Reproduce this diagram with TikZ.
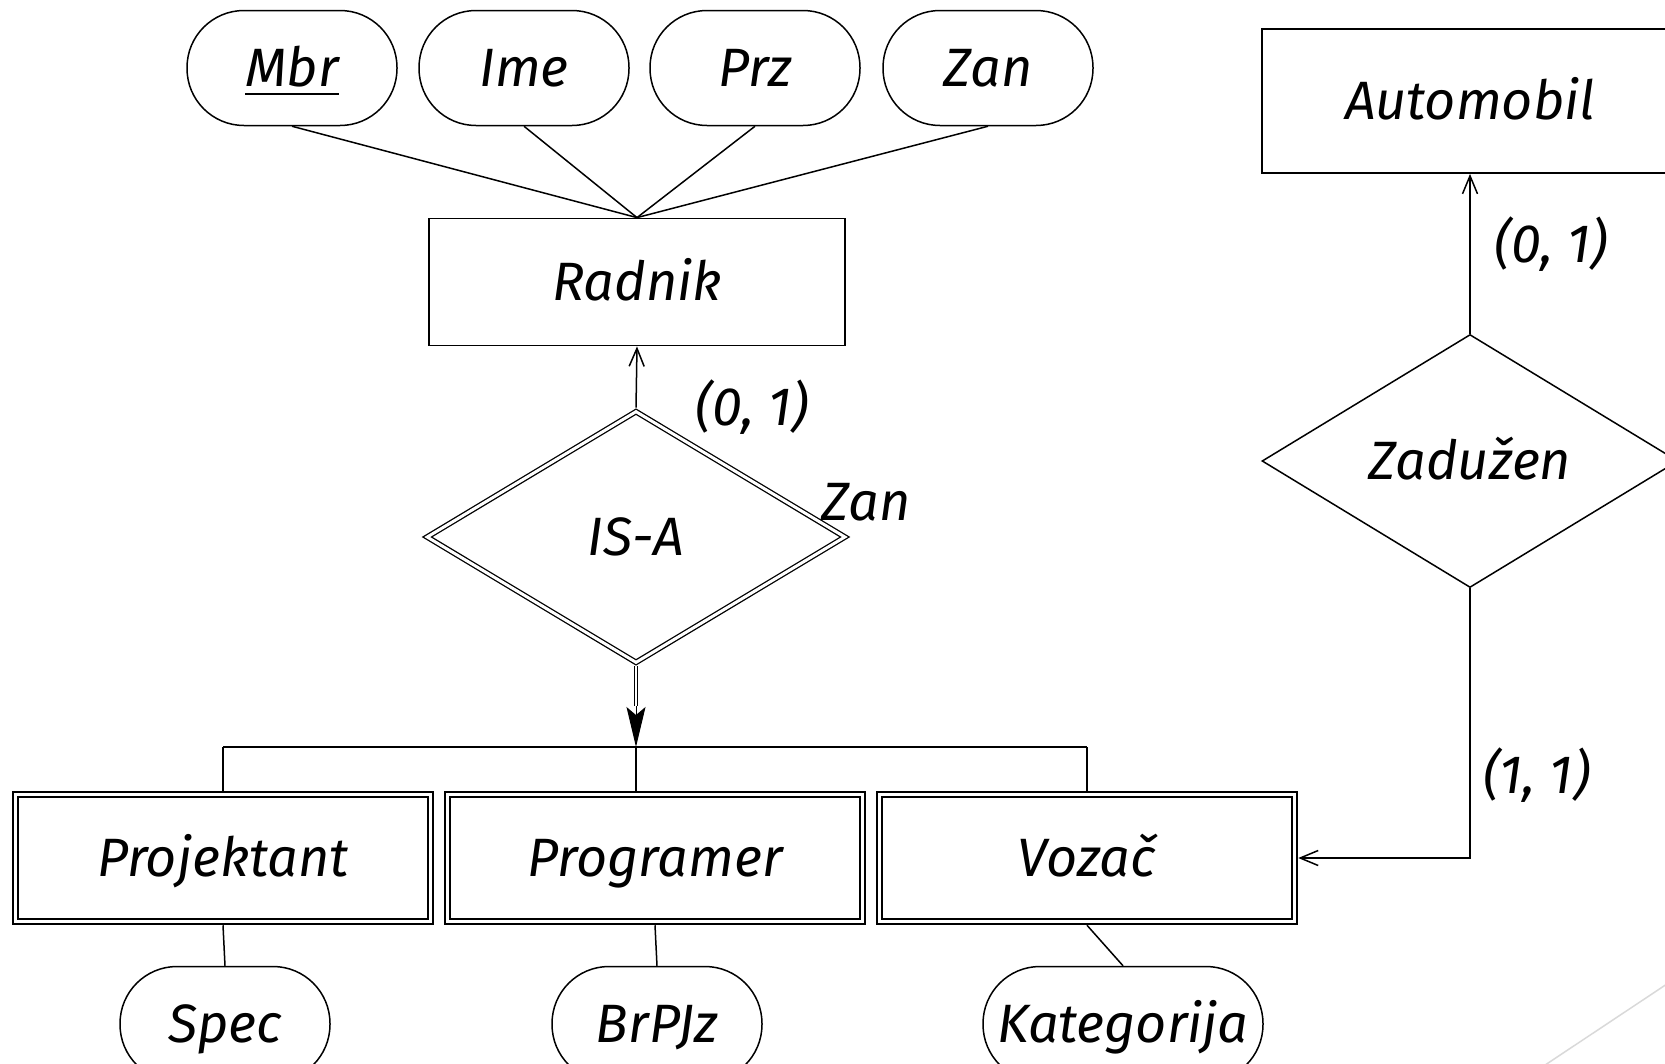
\documentclass[tikz,border=0pt]{standalone}
\usepackage{fontspec}
\setmainfont{Fira Sans}
\usetikzlibrary{shapes.geometric,arrows.meta}
\newcommand{\keyattr}[1]{{\setbox0\hbox{#1}\rlap{\raisebox{-0.16em}{\rule{\wd0}{2.6pt}}}\box0}}
\begin{document}
\begin{tikzpicture}[x=1pt,y=-1pt,
  every node/.style={font=\fontsize{54}{64}\selectfont\itshape},
  txt/.style={text height=42pt, text depth=5pt},
  attr/.style={draw, txt, line width=1.5pt, rectangle, rounded corners=57pt,
    minimum width=210pt, minimum height=115pt, inner sep=0pt},
  entity/.style={draw, txt, line width=1.8pt, rectangle, minimum width=416pt,
    minimum height=127pt, inner sep=0pt},
  weak/.style={draw, txt, line width=2pt, double=white, double distance=3.5pt,
    rectangle, minimum width=415pt, minimum height=127pt, inner sep=0pt,
    outer sep=3.75pt},
  rel/.style={draw, txt, line width=1.5pt, diamond, minimum width=416pt,
    minimum height=253pt, inner sep=0pt},
  isarel/.style={draw, txt, line width=1.3pt, double=white, double distance=3pt,
    diamond, minimum width=420pt, minimum height=253pt, inner sep=0pt,
    outer sep=2.8pt},
  lbl/.style={inner sep=0pt},
  conn/.style={line width=1.5pt},
  arr/.style={line width=1.5pt, -{Straight Barb[length=18pt,width=15pt,line width=1.5pt]}},
]
\useasboundingbox (0,0) rectangle (1665,1063);
\clip (0,0) rectangle (1665,1063);

% top attributes
\node[attr] (mbr) at (292,68) {\keyattr{Mbr}};
\node[attr] (ime) at (524,68) {Ime};
\node[attr] (prz) at (755,68) {Prz};
\node[attr] (zan) at (988,68) {Zan};

% Radnik
\node[entity] (radnik) at (637,282) {Radnik};

\foreach \a in {mbr,ime,prz,zan}
  \draw[conn] (\a.south) -- (radnik.north);

% IS-A
\node[isarel] (isa) at (636,537) {IS-A};
\draw[arr] (isa.north) -- (radnik.south);
\node[lbl] (l01a) at (752,407) {(0, 1)};
\node[lbl] (lzan) at (866,502) {Zan};

% hub
\coordinate (hub) at (636,747);
\coordinate (hubl) at (223,747);
\coordinate (hubr) at (1087,747);

% double arrow
\coordinate (dstem) at (636,706);
\draw[line width=1.2pt, double=white, double distance=2.5pt] (isa.south) -- (dstem);
\draw[line width=1pt, -{Stealth[length=40pt,width=19pt,inset=8pt]}] (dstem) -- (hub);

% weak entities
\node[weak] (proj) at (223,858) {Projektant};
\node[weak] (prog) at (655,858) {Programer};
\node[weak] (voz) at (1087,858) {Vozač};

\draw[conn] (hubl) -- (hubr);
\draw[conn] (hubl) -- (proj.north);
\draw[conn] (hub) -- (hub |- prog.north);
\draw[conn] (hubr) -- (voz.north);

% bottom attributes
\node[attr] (spec) at (225,1024) {Spec};
\node[attr] (brpjz) at (657,1024) {BrPJz};
\node[attr, minimum width=280pt] (kat) at (1123,1024) {Kategorija};

\draw[conn] (proj.south) -- (spec.north);
\draw[conn] (prog.south) -- (brpjz.north);
\draw[conn] (voz.south) -- (kat.north);

% Automobil / Zaduzen
\node[entity, minimum width=416pt, minimum height=144pt] (auto) at (1470,101) {Automobil};
\node[rel] (zad) at (1470,461) {Zadužen};
\draw[arr] (zad.north) -- (auto.south);
\node[lbl] (l01b) at (1551,244) {(0, 1)};
\draw[arr] (zad.south) |- (voz.east);
\node[lbl] (l11) at (1537,775) {(1, 1)};

% decorative slide line
\draw[black!15, line width=1.5pt] (1500,1095) -- (1700,962);
\end{tikzpicture}
\end{document}
